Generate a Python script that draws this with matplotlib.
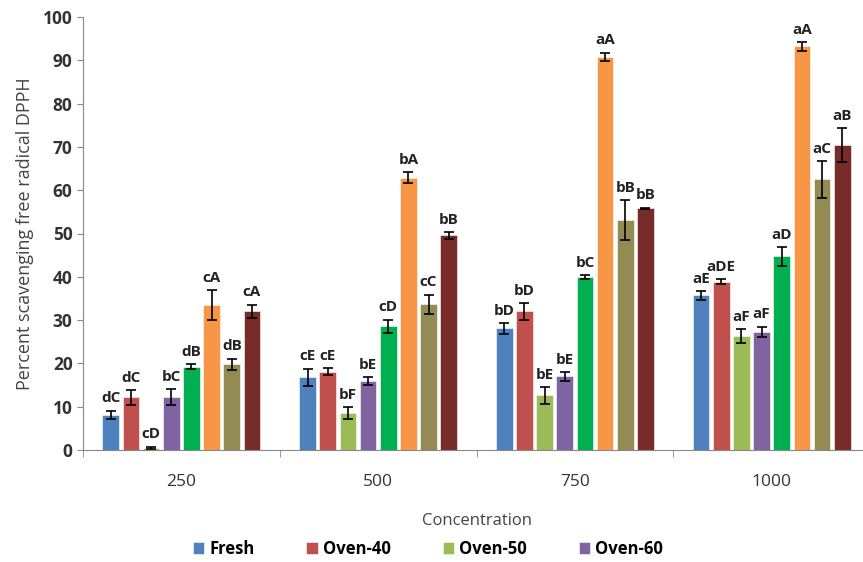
import numpy as np
import matplotlib
matplotlib.use("Agg")
import matplotlib.pyplot as plt

plt.rcParams['font.family'] = ['Open Sans', 'DejaVu Sans']

# ── data ──────────────────────────────────────────────────────────────────────
concentrations = ["250", "500", "750", "1000"]
series_names = ["Fresh", "Oven-40", "Oven-50", "Oven-60",
                "Series 5", "Series 6", "Series 7", "Series 8"]
colors = ["#4F81BD", "#C0504D", "#9BBB59", "#8064A2",
          "#00B050", "#F79646", "#948A54", "#772C2A"]

fresh    = [8.1, 16.8, 28.1, 35.7]
oven40   = [12.2, 18.1, 32.0, 38.9]
oven50   = [0.5, 8.5, 12.6, 26.4]
oven60   = [12.2, 15.9, 17.0, 27.3]
series5  = [19.2, 28.6, 40.0, 44.7]
series6  = [33.5, 62.9, 90.8, 93.2]
series7  = [19.8, 33.7, 53.1, 62.5]
series8  = [32.1, 49.6, 55.8, 70.4]

err_fresh   = [1.0, 2.0, 1.3, 1.0]
err_oven40  = [1.7, 0.8, 2.0, 0.6]
err_oven50  = [0.3, 1.4, 1.9, 1.6]
err_oven60  = [1.8, 1.0, 1.0, 1.2]
err_series5 = [0.6, 1.5, 0.4, 2.2]
err_series6 = [3.5, 1.3, 1.0, 1.0]
err_series7 = [1.3, 2.2, 4.7, 4.3]
err_series8 = [1.5, 0.8, 0.2, 4.0]

lab_fresh   = ["dC", "cE", "bD", "aE"]
lab_oven40  = ["dC", "cE", "bD", "aDE"]
lab_oven50  = ["cD", "bF", "bE", "aF"]
lab_oven60  = ["bC", "bE", "bE", "aF"]
lab_series5 = ["dB", "cD", "bC", "aD"]
lab_series6 = ["cA", "bA", "aA", "aA"]
lab_series7 = ["dB", "cC", "bB", "aC"]
lab_series8 = ["cA", "bB", "bB", "aB"]

values = [fresh, oven40, oven50, oven60, series5, series6, series7, series8]
errors = [err_fresh, err_oven40, err_oven50, err_oven60,
          err_series5, err_series6, err_series7, err_series8]
letters = [lab_fresh, lab_oven40, lab_oven50, lab_oven60,
           lab_series5, lab_series6, lab_series7, lab_series8]

# ── plot ──────────────────────────────────────────────────────────────────────
fig = plt.figure(figsize=(8.63, 5.62), dpi=100)
ax = fig.add_axes([83 / 863, 1 - 450 / 562, 787 / 863, 433 / 562])

x = np.arange(len(concentrations))
slot = 0.1025
width = 0.085
handles = []
for i, (vals, errs, labs) in enumerate(zip(values, errors, letters)):
    pos = x + (i - 3.5) * slot
    b = ax.bar(pos, vals, width, color=colors[i], edgecolor="white",
               linewidth=0.4, label=series_names[i], zorder=2)
    ax.errorbar(pos, vals, yerr=errs, fmt="none", ecolor="black",
                elinewidth=1.2, capsize=3.5, capthick=1.2, zorder=3)
    handles.append(b)
    for p, v, e, t in zip(pos, vals, errs, labs):
        ax.text(p, v + e + 1.2, t, ha="center", va="bottom",
                fontsize=11, fontweight="bold", color="#222222")

ax.set_ylim(0, 100)
ax.set_xlim(-0.5, 3.5)
ax.set_yticks(np.arange(0, 101, 10))
ax.tick_params(axis="y", labelsize=12.5, length=4, color="#888888", labelcolor="#333333")
for t in ax.get_yticklabels():
    t.set_fontweight("bold")

ax.set_xticks(x)
ax.set_xticklabels(concentrations, fontsize=12.5, color="#333333")
ax.tick_params(axis="x", length=0, pad=17)
ax.set_xticks(np.arange(-0.5, 3.6, 1), minor=True)
ax.tick_params(axis="x", which="minor", length=5, color="#888888")

for s in ["top", "right"]:
    ax.spines[s].set_visible(False)
for s in ["left", "bottom"]:
    ax.spines[s].set_color("#888888")

ax.set_ylabel("Percent scavenging free radical DPPH", fontsize=13, color="#444444",
              labelpad=6)
ax.set_xlabel("Concentration", fontsize=12, color="#444444", labelpad=17)

leg = fig.legend(handles[:4], series_names[:4], loc="center",
                 bbox_to_anchor=(428 / 863, 1 - 549 / 562), ncol=4,
                 frameon=False, handlelength=0.7, handleheight=0.7,
                 handletextpad=0.3, columnspacing=3.1,
                 prop={"weight": "bold", "size": 12})

fig.savefig("out.png", dpi=100)
